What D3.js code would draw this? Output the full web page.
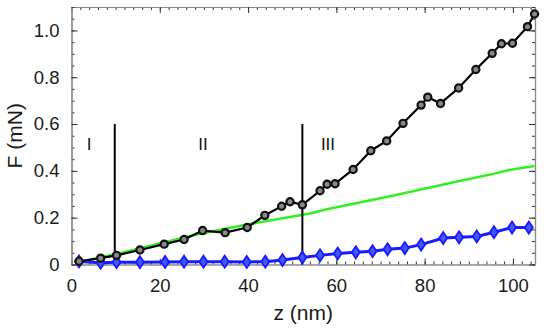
<!DOCTYPE html>
<html>
<head>
<meta charset="utf-8">
<script src="https://cdn.jsdelivr.net/npm/d3@7"></script>
<style>
	body { margin: 0; background: #fff; }
	text { font-family: "Liberation Sans", Arial, Helvetica, sans-serif; }
</style>
</head>
<body>
<div id="chart_holder"></div>
<script>
//force vs depth curves, three regions marked off

//black circles
var blackZ = [1.7, 6.6, 10.2, 15.5, 21.0, 25.5, 29.7, 34.8, 39.8, 43.8, 47.6, 49.5, 52.3, 56.3, 57.9, 59.7, 63.8, 67.8, 71.4, 75.1, 79.2, 80.7, 83.6, 87.7, 91.6, 95.3, 97.4, 99.9, 103.3, 104.9];
var blackF = [0.014, 0.027, 0.039, 0.062, 0.087, 0.107, 0.145, 0.136, 0.158, 0.21, 0.249, 0.268, 0.255, 0.315, 0.343, 0.345, 0.406, 0.486, 0.528, 0.603, 0.681, 0.715, 0.688, 0.754, 0.833, 0.902, 0.943, 0.945, 1.016, 1.07];

//blue diamonds
var blueZ = [1.7, 6.6, 10.2, 15.5, 21.2, 25.5, 29.9, 34.7, 39.7, 43.9, 47.8, 52.3, 56.3, 60.3, 64.4, 68.2, 71.6, 75.5, 79.2, 84.2, 87.8, 91.8, 95.7, 99.8, 103.6];
var blueF = [0.013, 0.008, 0.01, 0.01, 0.011, 0.012, 0.012, 0.012, 0.011, 0.012, 0.019, 0.03, 0.039, 0.047, 0.052, 0.057, 0.065, 0.07, 0.085, 0.113, 0.116, 0.12, 0.138, 0.158, 0.158];

//green reference line
var greenZ = [1.8, 12.6, 27.6, 39.7, 54.0, 58.1, 73.5, 86.3, 94.6, 99.1, 104.9];
var greenF = [0.01, 0.056, 0.125, 0.171, 0.218, 0.237, 0.297, 0.35, 0.383, 0.404, 0.421];

//region dividers and labels
var dividerZ = [9.8, 52.3];
var dividerTop = 0.6;
var regionNames = ["I", "II", "III"];
var regionZ = [4.0, 29.8, 58.1];
var regionF = 0.49;

var xTicks = [0, 20, 40, 60, 80, 100];
var yTicks = [0, 0.2, 0.4, 0.6, 0.8, 1.0];

var width = 550, height = 330;
var margin = {left: 71.5, right: 15, top: 7, bottom: 65.5};
var pw = width - margin.left - margin.right, ph = height - margin.top - margin.bottom;

var x = d3.scaleLinear().domain([0, 105]).range([0, pw]);
var y = d3.scaleLinear().domain([0, 1.1]).range([ph, 0]);

var svg = d3.select("#chart_holder").append("svg")
	.attr("width", width)
	.attr("height", height);

var g = svg.append("g").attr("transform", "translate(" + margin.left + "," + margin.top + ")");

var axisCol = "#8a8a8a";

//frame - ticks point inwards on all four sides
function styleAxis(sel){
	sel.select(".domain").attr("stroke", axisCol).attr("stroke-width", 1.2);
	sel.selectAll(".tick line").attr("stroke", "#333").attr("stroke-width", 1);
	sel.selectAll("text").attr("fill", "#1a1a1a").style("font-size", "18.5px");
}

var xMinor = d3.range(0, 106, 2);
var yMinor = d3.range(0, 1.1001, 0.05);

//bottom
g.append("g").attr("transform", "translate(0," + ph + ")")
	.call(d3.axisBottom(x).tickValues(xMinor).tickSize(-3).tickSizeOuter(0).tickFormat(""))
	.call(styleAxis);
g.append("g").attr("transform", "translate(0," + ph + ")")
	.call(d3.axisBottom(x).tickValues(xTicks).tickSize(-6).tickSizeOuter(0).tickPadding(14).tickFormat(d3.format("d")))
	.call(styleAxis);
//top
g.append("g")
	.call(d3.axisTop(x).tickValues(xMinor).tickSize(-3).tickSizeOuter(0).tickFormat(""))
	.call(styleAxis);
g.append("g")
	.call(d3.axisTop(x).tickValues(xTicks).tickSize(-6).tickSizeOuter(0).tickFormat(""))
	.call(styleAxis);
//left
g.append("g")
	.call(d3.axisLeft(y).tickValues(yMinor).tickSize(-3).tickSizeOuter(0).tickFormat(""))
	.call(styleAxis);
g.append("g")
	.call(d3.axisLeft(y).tickValues(yTicks).tickSize(-6).tickSizeOuter(0).tickPadding(12)
		.tickFormat(function(d){ return d === 0 ? "0" : d3.format(".1f")(d); }))
	.call(styleAxis);
//right
g.append("g").attr("transform", "translate(" + pw + ",0)")
	.call(d3.axisRight(y).tickValues(yMinor).tickSize(-3).tickSizeOuter(0).tickFormat(""))
	.call(styleAxis);
g.append("g").attr("transform", "translate(" + pw + ",0)")
	.call(d3.axisRight(y).tickValues(yTicks).tickSize(-6).tickSizeOuter(0).tickFormat(""))
	.call(styleAxis);

//axis titles
svg.append("text")
	.attr("x", margin.left + x(52.5))
	.attr("y", 320)
	.attr("text-anchor", "middle")
	.attr("fill", "#1a1a1a")
	.style("font-size", "21px")
	.text("z (nm)");

svg.append("text")
	.attr("transform", "translate(22," + (margin.top + y(0.55)) + ") rotate(-90)")
	.attr("text-anchor", "middle")
	.attr("fill", "#1a1a1a")
	.style("font-size", "21px")
	.text("F (mN)");

function zip(a, b){ return a.map(function(v, i){ return [v, b[i]]; }); }

var line = d3.line().x(function(d){ return x(d[0]); }).y(function(d){ return y(d[1]); });

//green first so it sits under the others
g.append("path").datum(zip(greenZ, greenF))
	.attr("d", line)
	.attr("fill", "none")
	.attr("stroke", "#33ee22")
	.attr("stroke-width", 2.5);

//dividers
g.selectAll(".divider").data(dividerZ).enter().append("line")
	.attr("class", "divider")
	.attr("x1", function(d){ return x(d); })
	.attr("x2", function(d){ return x(d); })
	.attr("y1", y(0))
	.attr("y2", y(dividerTop))
	.attr("stroke", "#000")
	.attr("stroke-width", 2);

g.selectAll(".region").data(regionNames).enter().append("text")
	.attr("class", "region")
	.attr("x", function(d, i){ return x(regionZ[i]); })
	.attr("y", y(regionF))
	.attr("text-anchor", "middle")
	.attr("fill", "#111")
	.style("font-size", "17px")
	.text(function(d){ return d; });

//blue series
var blueData = zip(blueZ, blueF);
g.append("path").datum(blueData)
	.attr("d", line)
	.attr("fill", "none")
	.attr("stroke", "#1a1aff")
	.attr("stroke-width", 3);

g.selectAll(".diamond").data(blueData).enter().append("path")
	.attr("class", "diamond")
	.attr("transform", function(d){ return "translate(" + x(d[0]) + "," + y(d[1]) + ")"; })
	.attr("d", "M0,-6L4,0L0,6L-4,0Z")
	.attr("fill", "#4455ff")
	.attr("stroke", "#1a1aff")
	.attr("stroke-width", 1.8);

//black series
var blackData = zip(blackZ, blackF);
g.append("path").datum(blackData)
	.attr("d", line)
	.attr("fill", "none")
	.attr("stroke", "#000")
	.attr("stroke-width", 2.2);

g.selectAll(".dot").data(blackData).enter().append("circle")
	.attr("class", "dot")
	.attr("cx", function(d){ return x(d[0]); })
	.attr("cy", function(d){ return y(d[1]); })
	.attr("r", 3.6)
	.attr("fill", "#888")
	.attr("stroke", "#111")
	.attr("stroke-width", 2.2);
</script>
</body>
</html>
